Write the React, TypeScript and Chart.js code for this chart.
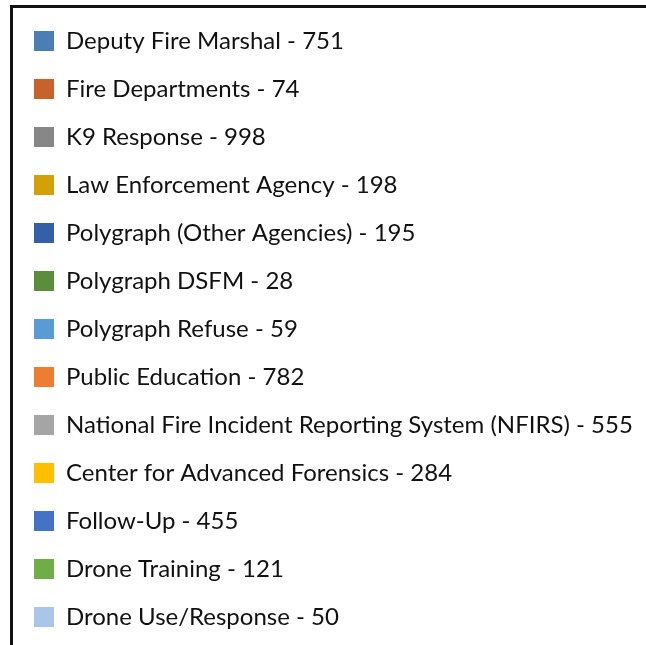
import React, { useEffect, useRef } from "react";
import { Chart, registerables } from "chart.js";

Chart.register(...registerables);

const categories: string[] = [
  "Deputy Fire Marshal",
  "Fire Departments",
  "K9 Response",
  "Law Enforcement Agency",
  "Polygraph (Other Agencies)",
  "Polygraph DSFM",
  "Polygraph Refuse",
  "Public Education",
  "National Fire Incident Reporting System (NFIRS)",
  "Center for Advanced Forensics",
  "Follow-Up",
  "Drone Training",
  "Drone Use/Response",
];

const counts: number[] = [751, 74, 998, 198, 195, 28, 59, 782, 555, 284, 455, 121, 50];

const sliceColors: string[] = [
  "#4A7EB5",
  "#C7622C",
  "#878787",
  "#D3A008",
  "#3360A6",
  "#5A8E3C",
  "#5B9BD5",
  "#ED7D31",
  "#A5A5A5",
  "#FFC000",
  "#4472C4",
  "#70AD47",
  "#A9C6E8",
];

export default function App() {
  const canvasRef = useRef<HTMLCanvasElement | null>(null);

  useEffect(() => {
    const canvas = canvasRef.current;
    if (!canvas) return;
    const chart = new Chart(canvas, {
      type: "pie",
      data: {
        labels: categories.map((c, i) => `${c} - ${counts[i]}`),
        datasets: [
          {
            data: counts,
            backgroundColor: sliceColors,
            borderWidth: 0,
          },
        ],
      },
      options: {
        responsive: false,
        animation: false,
        devicePixelRatio: 1,
        layout: { padding: { top: 5, left: 10, right: 10, bottom: 0 } },
        plugins: {
          tooltip: { enabled: false },
          title: { display: false },
          legend: {
            display: true,
            position: "left",
            align: "start",
            labels: {
              boxWidth: 20,
              boxHeight: 20,
              padding: 24,
              color: "#111111",
              font: { family: "Lato", size: 24, weight: "normal" },
            },
          },
        },
      },
    });
    return () => chart.destroy();
  }, []);

  return (
    <div
      style={{
        position: "fixed",
        left: 0,
        top: 0,
        width: 646,
        height: 645,
        overflow: "hidden",
        background: "#fff",
      }}
    >
      <canvas
        ref={canvasRef}
        width={1400}
        height={720}
        style={{ position: "absolute", left: 0, top: 0, width: 1400, height: 720 }}
      />
      <div
        style={{
          position: "absolute",
          left: 10,
          top: 5,
          width: 700,
          height: 700,
          borderTop: "3px solid #111",
          borderLeft: "3px solid #111",
          pointerEvents: "none",
        }}
      />
    </div>
  );
}
